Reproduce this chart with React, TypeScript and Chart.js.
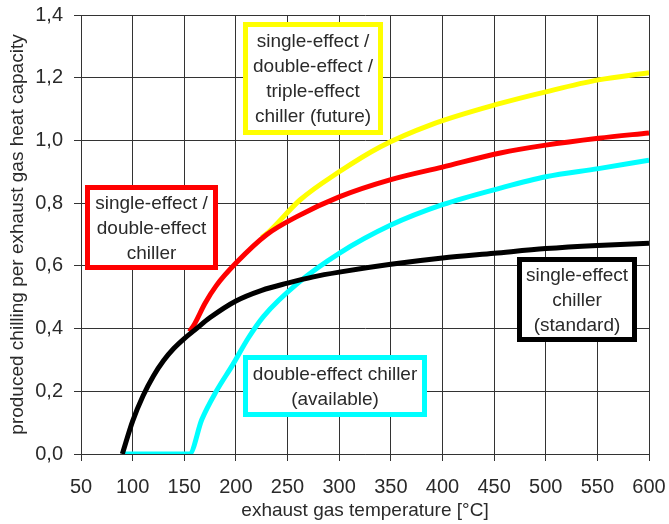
import React, { useEffect, useRef } from "react";
import { Chart, registerables } from "chart.js";

Chart.register(...registerables);

// x: exhaust gas temperature [°C]
const blackX = [90, 100, 110, 120, 130, 140, 150, 160, 175, 200, 225, 250, 275, 300, 350, 400, 450, 500, 550, 600];
const blackY = [0, 0.105, 0.185, 0.248, 0.298, 0.337, 0.368, 0.395, 0.435, 0.488, 0.522, 0.545, 0.565, 0.58, 0.605, 0.625, 0.64, 0.655, 0.665, 0.672];

const redX = [155, 160, 170, 181, 201, 230, 259, 300, 350, 400, 456, 500, 551, 600];
const redY = [0.39, 0.415, 0.48, 0.537, 0.612, 0.7, 0.757, 0.82, 0.875, 0.915, 0.96, 0.985, 1.007, 1.024];

const yellowX = [225, 233, 262, 300, 340, 388, 456, 500, 551, 600];
const yellowY = [0.69, 0.712, 0.81, 0.9, 0.98, 1.049, 1.118, 1.155, 1.193, 1.216];

const cyanX = [90, 155, 167, 181, 197, 212, 227, 260, 300, 350, 400, 456, 500, 551, 600];
const cyanY = [0, 0, 0.11, 0.2, 0.285, 0.37, 0.44, 0.545, 0.64, 0.73, 0.795, 0.848, 0.884, 0.91, 0.937];

const xTicks = [50, 100, 150, 200, 250, 300, 350, 400, 450, 500, 550, 600];
const yTicks = [0, 0.2, 0.4, 0.6, 0.8, 1.0, 1.2, 1.4];

const xTitle = "exhaust gas temperature [°C]";
const yTitle = "produced chilling per exhaust gas heat capacity";

const boxLabels = [
  ["single-effect /", "double-effect /", "triple-effect", "chiller (future)"],
  ["single-effect /", "double-effect", "chiller"],
  ["single-effect", "chiller", "(standard)"],
  ["double-effect chiller", "(available)"],
];
const boxColors = ["#ffff00", "#ff0000", "#000000", "#00ffff"];
// anchor in data units (box centre)
const boxAnchorX = [274.7, 118.3, 530.3, 296];
const boxAnchorY = [1.1975, 0.722, 0.493, 0.217];
const boxW = [140, 133, 120, 184];
const boxH = [113, 85, 85, 62];

const FONT = '"Liberation Sans", Arial, sans-serif';

const toPts = (xs: number[], ys: number[]) => xs.map((x, i) => ({ x, y: ys[i] }));

const boxPlugin = {
  id: "boxes",
  afterDatasetsDraw(chart: any) {
    const { ctx, scales } = chart;
    const sx = scales.x;
    const sy = scales.y;
    boxLabels.forEach((lines, i) => {
      const cx = sx.getPixelForValue(boxAnchorX[i]);
      const cy = sy.getPixelForValue(boxAnchorY[i]);
      const w = boxW[i];
      const h = boxH[i];
      const l = Math.round(cx - w / 2);
      const t = Math.round(cy - h / 2);
      ctx.save();
      ctx.fillStyle = "#ffffff";
      ctx.fillRect(l, t, w, h);
      ctx.lineWidth = 5;
      ctx.strokeStyle = boxColors[i];
      ctx.strokeRect(l + 2.5, t + 2.5, w - 5, h - 5);
      ctx.fillStyle = "#2a2a2a";
      ctx.font = "19px " + FONT;
      ctx.textAlign = "center";
      ctx.textBaseline = "middle";
      const n = lines.length;
      lines.forEach((s, k) => {
        ctx.fillText(s, cx, cy + 1 + (k - (n - 1) / 2) * 25);
      });
      ctx.restore();
    });
  },
};

const zeroPad = (s: any) => {
  s.paddingTop = 0;
  s.paddingBottom = 0;
  s.paddingLeft = 0;
  s.paddingRight = 0;
};

export default function App() {
  const ref = useRef<HTMLCanvasElement>(null);
  useEffect(() => {
    if (!ref.current) return;
    const chart = new Chart(ref.current, {
      type: "line",
      data: {
        datasets: [
          {
            label: "single-effect (standard)",
            data: toPts(blackX, blackY),
            borderColor: "#000000",
            borderWidth: 5,
            pointRadius: 0,
            cubicInterpolationMode: "monotone",
            order: 0,
          },
          {
            label: "double-effect (available)",
            data: toPts(cyanX, cyanY),
            borderColor: "#00ffff",
            borderWidth: 5,
            pointRadius: 0,
            cubicInterpolationMode: "monotone",
            order: 1,
          },
          {
            label: "single/double-effect",
            data: toPts(redX, redY),
            borderColor: "#ff0000",
            borderWidth: 5,
            pointRadius: 0,
            cubicInterpolationMode: "monotone",
            order: 2,
          },
          {
            label: "single/double/triple-effect (future)",
            data: toPts(yellowX, yellowY),
            borderColor: "#ffff00",
            borderWidth: 5,
            pointRadius: 0,
            cubicInterpolationMode: "monotone",
            order: 3,
          },
        ],
      },
      options: {
        animation: false,
        responsive: false,
        devicePixelRatio: 1,
        layout: { padding: { left: 0, top: 15, right: 20, bottom: 0 } },
        plugins: { legend: { display: false }, tooltip: { enabled: false } },
        scales: {
          x: {
            type: "linear",
            min: xTicks[0],
            max: xTicks[xTicks.length - 1],
            afterBuildTicks: (s: any) => {
              s.ticks = xTicks.map((v) => ({ value: v }));
            },
            afterFit: (s: any) => {
              s.height = 70;
              zeroPad(s);
            },
            ticks: {
              color: "#2a2a2a",
              font: { family: FONT, size: 20 },
              padding: 14,
              maxRotation: 0,
              autoSkip: false,
            },
            grid: { color: "#333", lineWidth: 1, tickLength: 7, drawTicks: true },
            border: { display: true, color: "#333", width: 1 },
            title: {
              display: true,
              text: xTitle,
              color: "#2a2a2a",
              font: { family: FONT, size: 19 },
              padding: { top: 0, bottom: 2 },
            },
          },
          y: {
            type: "linear",
            min: yTicks[0],
            max: yTicks[yTicks.length - 1],
            afterBuildTicks: (s: any) => {
              s.ticks = yTicks.map((v) => ({ value: v }));
            },
            afterFit: (s: any) => {
              s.width = 81;
              zeroPad(s);
            },
            ticks: {
              color: "#2a2a2a",
              font: { family: FONT, size: 20 },
              padding: 11,
              autoSkip: false,
              callback: (v: any) => Number(v).toFixed(1).replace(".", ","),
            },
            grid: { color: "#333", lineWidth: 1, tickLength: 7, drawTicks: true },
            border: { display: true, color: "#333", width: 1 },
            title: {
              display: true,
              text: yTitle,
              color: "#2a2a2a",
              font: { family: FONT, size: 19 },
              padding: { top: 6, bottom: 0 },
            },
          },
        },
      },
      plugins: [boxPlugin],
    } as any);
    return () => chart.destroy();
  }, []);
  return (
    <div style={{ position: "absolute", left: 0, top: 0, width: 669, height: 524, background: "#fff" }}>
      <canvas ref={ref} width={669} height={524} style={{ display: "block" }} />
    </div>
  );
}
